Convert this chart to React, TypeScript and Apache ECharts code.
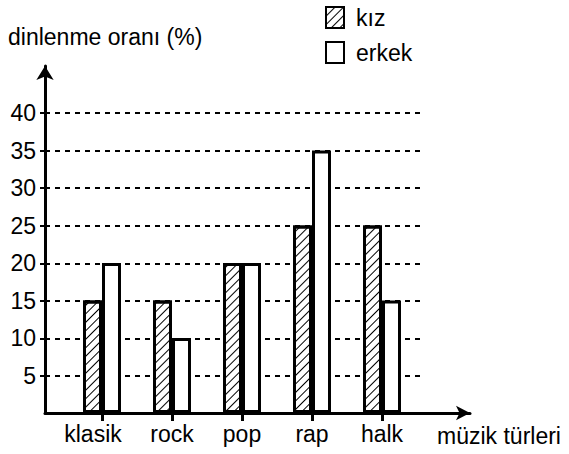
import React, { useEffect, useRef } from 'react';
import * as echarts from 'echarts';

const categories = ['klasik', 'rock', 'pop', 'rap', 'halk'];
const kizValues = [15, 15, 20, 25, 25];
const erkekValues = [20, 10, 20, 35, 15];
const seriesNames = ['kız', 'erkek'];
const yAxisName = 'dinlenme oranı (%)';
const xAxisName = 'müzik türleri';

const FONT = '"Liberation Sans", Arial, Helvetica, sans-serif';
const FS = 23;

export default function App() {
  const ref = useRef<HTMLDivElement>(null);
  useEffect(() => {
    document.body.style.margin = '0';
    const chart = echarts.init(ref.current!, null, { renderer: 'svg' });
    const hatch = {
      symbol: 'rect',
      symbolSize: 1,
      color: '#000',
      dashArrayX: [1, 0],
      dashArrayY: [1, 5],
      rotation: -Math.PI / 4,
    };
    chart.setOption({
      animation: false,
      backgroundColor: '#fff',
      title: {
        text: yAxisName,
        left: 8,
        top: 25,
        padding: 0,
        textStyle: { fontSize: FS, fontWeight: 'normal', color: '#000', fontFamily: FONT },
      },
      legend: {
        orient: 'vertical',
        left: 325,
        top: 6,
        padding: 0,
        itemWidth: 18,
        itemHeight: 21,
        itemGap: 12,
        icon: 'rect',
        data: seriesNames,
        textStyle: { fontSize: FS, color: '#000', fontFamily: FONT, padding: [0, 0, 0, 7] },
      },
      grid: [
        { left: 45, top: 66, width: 425, height: 347 },
        { left: 45, top: 113, width: 375, height: 263 },
        { left: 67, top: 113, width: 350, height: 300 },
      ],
      xAxis: [
        {
          gridIndex: 0,
          type: 'value',
          min: 0,
          max: 1,
          axisLine: {
            show: true,
            symbol: ['none', 'arrow'],
            symbolSize: [11, 14],
            lineStyle: { color: '#000', width: 3 },
          },
          axisTick: { show: false },
          axisLabel: { show: false },
          splitLine: { show: false },
          name: xAxisName,
          nameLocation: 'end',
          nameGap: -33,
          nameTextStyle: {
            fontSize: FS,
            color: '#000',
            fontFamily: FONT,
            align: 'left',
            verticalAlign: 'top',
            padding: [11, 0, 0, 0],
          },
        },
        { gridIndex: 1, type: 'value', min: 0, max: 1, show: false },
        {
          gridIndex: 2,
          type: 'category',
          data: categories,
          axisLine: { show: false },
          axisTick: {
            show: true,
            alignWithLabel: true,
            length: 8,
            lineStyle: { color: '#000', width: 3 },
          },
          axisLabel: {
            interval: 0,
            fontSize: FS,
            color: '#000',
            fontFamily: FONT,
            margin: 9,
            formatter: (v: string) => (v === categories[0] ? '{k|' + v + '}' : v),
            rich: {
              k: { fontSize: FS, color: '#000', fontFamily: FONT, padding: [0, 18, 0, 0] },
            },
          },
          splitLine: { show: false },
        },
      ],
      yAxis: [
        {
          gridIndex: 0,
          type: 'value',
          min: 0,
          max: 1,
          axisLine: {
            show: true,
            symbol: ['none', 'arrow'],
            symbolSize: [13, 14],
            lineStyle: { color: '#000', width: 3 },
          },
          axisTick: { show: false },
          axisLabel: { show: false },
          splitLine: { show: false },
        },
        {
          gridIndex: 1,
          type: 'value',
          min: 5,
          max: 40,
          interval: 5,
          axisLine: { show: false },
          axisTick: { show: true, length: 5, lineStyle: { color: '#000', width: 2 } },
          axisLabel: { fontSize: FS, color: '#000', fontFamily: FONT, margin: 9 },
          splitLine: { show: true, lineStyle: { color: '#000', width: 2, type: [5, 5] } },
        },
        { gridIndex: 2, type: 'value', min: 0, max: 40, show: false },
      ],
      series: [
        {
          type: 'bar',
          name: seriesNames[0],
          xAxisIndex: 2,
          yAxisIndex: 2,
          data: kizValues,
          barWidth: 19,
          barGap: '0%',
          itemStyle: { color: '#fff', borderColor: '#000', borderWidth: 3, decal: hatch },
        },
        {
          type: 'bar',
          name: seriesNames[1],
          xAxisIndex: 2,
          yAxisIndex: 2,
          data: erkekValues,
          barWidth: 19,
          barGap: '0%',
          itemStyle: { color: '#fff', borderColor: '#000', borderWidth: 3 },
        },
      ],
    });
    return () => chart.dispose();
  }, []);
  return <div ref={ref} style={{ position: 'absolute', left: 0, top: 0, width: 569, height: 454 }} />;
}
